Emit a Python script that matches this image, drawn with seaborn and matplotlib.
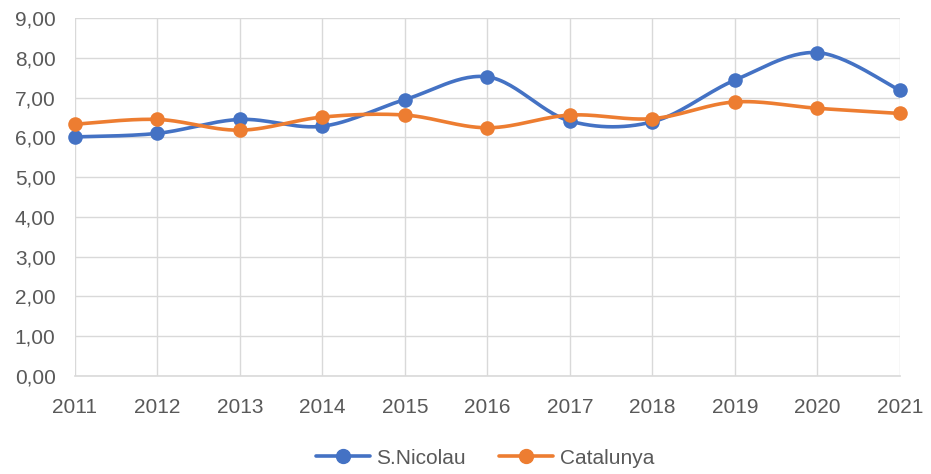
import numpy as np
import pandas as pd
import matplotlib
matplotlib.use("Agg")
import matplotlib.pyplot as plt
import seaborn as sns
from matplotlib.lines import Line2D

years = [2011, 2012, 2013, 2014, 2015, 2016, 2017, 2018, 2019, 2020, 2021]
s_nicolau = [6.01, 6.10, 6.45, 6.28, 6.95, 7.52, 6.41, 6.39, 7.44, 8.13, 7.18]
catalunya = [6.33, 6.45, 6.18, 6.51, 6.56, 6.24, 6.56, 6.47, 6.89, 6.73, 6.60]
series_names = ["S.Nicolau", "Catalunya"]
colors = ["#4472C4", "#ED7D31"]
y_ticks = [0, 1, 2, 3, 4, 5, 6, 7, 8, 9]

sns.set_theme(style="white")
plt.rcParams['font.family'] = ['Liberation Sans Narrow', 'Liberation Sans', 'DejaVu Sans']

df = pd.DataFrame({"year": years * 2,
                   "value": s_nicolau + catalunya,
                   "series": [series_names[0]] * len(years) + [series_names[1]] * len(years)})

fig = plt.figure(figsize=(9.31, 4.74), dpi=100)
ax = fig.add_axes([75 / 931, 1 - 376 / 474, 825 / 931, 358 / 474])


def smooth(x, y, n=30):
    x = np.asarray(x, float)
    y = np.asarray(y, float)
    xs, ys = [], []
    m = len(x)
    for i in range(m - 1):
        p0 = np.array([x[max(i - 1, 0)], y[max(i - 1, 0)]])
        p1 = np.array([x[i], y[i]])
        p2 = np.array([x[i + 1], y[i + 1]])
        p3 = np.array([x[min(i + 2, m - 1)], y[min(i + 2, m - 1)]])
        c1 = p1 + (p2 - p0) / 6
        c2 = p2 - (p3 - p1) / 6
        t = np.linspace(0, 1, n)[:, None]
        pts = ((1 - t) ** 3) * p1 + 3 * ((1 - t) ** 2) * t * c1 + 3 * (1 - t) * t ** 2 * c2 + t ** 3 * p2
        xs.extend(pts[:, 0])
        ys.extend(pts[:, 1])
    return np.array(xs), np.array(ys)


for name, col in zip(series_names, colors):
    sub = df[df.series == name]
    sx, sy = smooth(sub.year, sub.value)
    ax.plot(sx, sy, color=col, lw=2.6, solid_capstyle="round", zorder=3, clip_on=False)
    sns.scatterplot(x=sub.year, y=sub.value, color=col, s=110, edgecolor=col,
                    linewidth=0, ax=ax, zorder=4, legend=False, clip_on=False)

ax.set_xlim(2011, 2021)
ax.set_ylim(0, 9)
ax.set_xticks(years)
ax.set_xticklabels([str(y) for y in years])
ax.set_yticks(y_ticks)
ax.set_yticklabels([f"{v:.2f}".replace(".", ",") for v in y_ticks])
ax.grid(True, color="#D9D9D9", lw=1)
ax.set_axisbelow(True)
for s in ["top", "right", "left"]:
    ax.spines[s].set_visible(False)
ax.spines["bottom"].set_color("#D9D9D9")
ax.spines["bottom"].set_linewidth(1.2)
ax.tick_params(axis="both", length=0, labelsize=15, labelcolor="#595959")
ax.tick_params(axis="y", pad=14)
ax.tick_params(axis="x", pad=16)
ax.set_xlabel("")
ax.set_ylabel("")

handles = [Line2D([0], [0], color=c, lw=2.6, marker="o", markersize=10) for c in colors]
fig.legend(handles, series_names, loc="center", bbox_to_anchor=(485 / 931, 1 - 458 / 474),
           ncol=2, frameon=False, fontsize=15, labelcolor="#595959",
           handlelength=2.6, columnspacing=1.6, handletextpad=0.3)

fig.savefig("out.png", dpi=100)
